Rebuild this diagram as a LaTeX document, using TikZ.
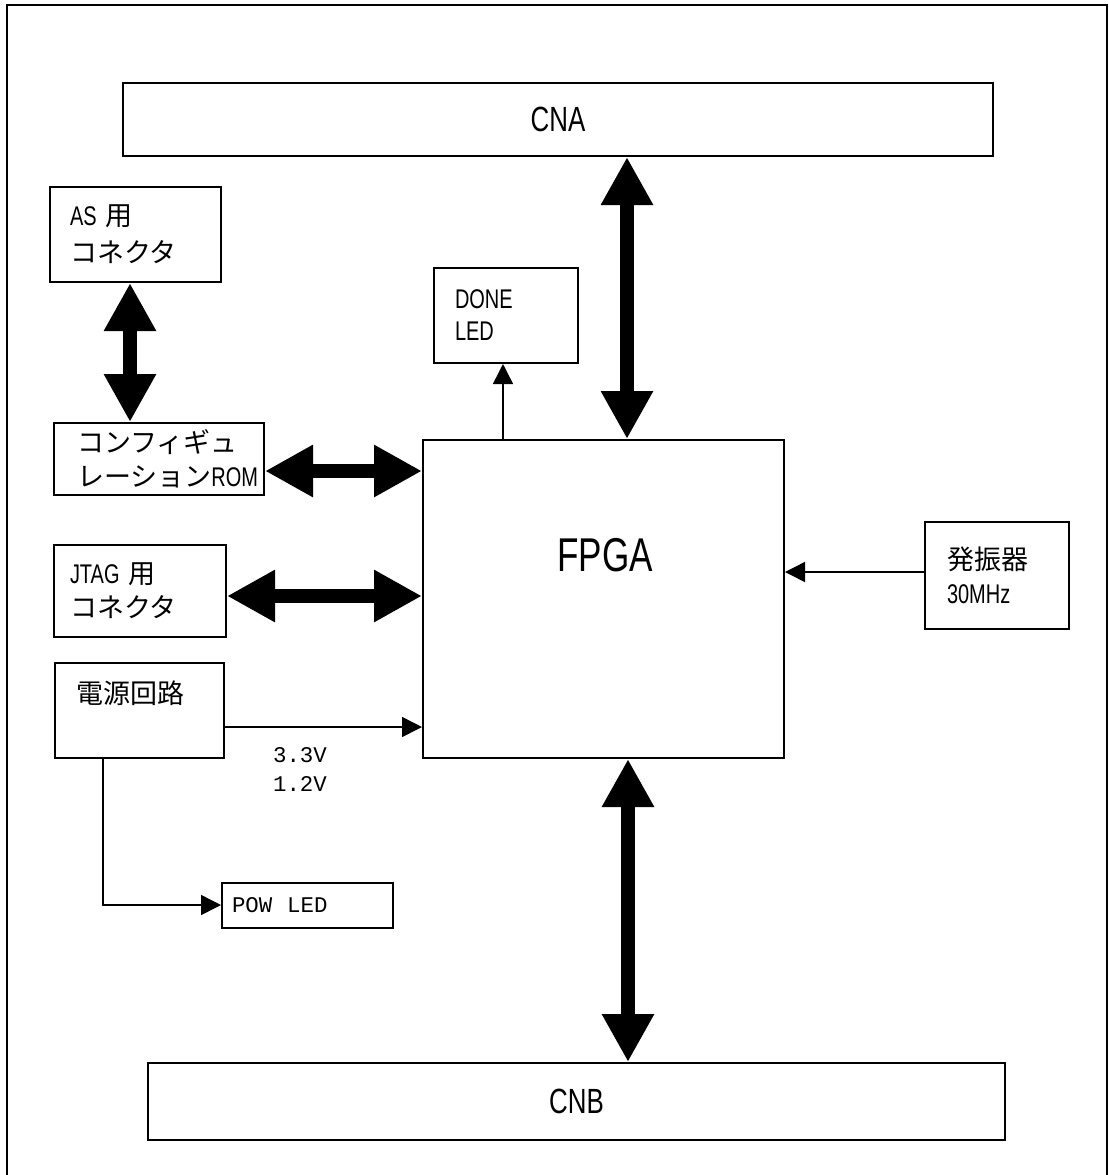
\documentclass[tikz,border=0pt]{standalone}
\usepackage{fontspec}
\setmainfont{Liberation Sans}[FakeStretch=0.74]
\newfontfamily\jpfont{Noto Sans CJK JP}
\newfontfamily\voltfont{Liberation Mono}
\usetikzlibrary{arrows.meta}

\begin{document}
\begin{tikzpicture}[x=0.5pt,y=-0.5pt,
    blk/.style={draw,line width=1pt,inner sep=0pt,align=left},
    bigtxt/.style={font=\fontsize{17.5}{20}\selectfont},
    boxtxt/.style={font=\fontsize{13.5}{17}\selectfont},
    monotxt/.style={font=\voltfont\fontsize{11.2}{14.5}\selectfont},
    bus/.style={line width=7pt,{Triangle[length=24pt,width=24.5pt]}-{Triangle[length=24pt,width=24.5pt]}},
    sig/.style={line width=0.75pt,-{Triangle[length=10pt,width=10pt]}}]

  \useasboundingbox (0,0) rectangle (1109,1175);
  \draw[line width=1pt] (7,1190) -- (7,5) -- (1107,5) -- (1107,1190);

  \node[blk,bigtxt,minimum width=435pt,minimum height=36.5pt] (cna) at (558,119.5) {CNA};
  \node[blk,bigtxt,minimum width=428.5pt,minimum height=38.5pt] (cnb) at (576.5,1101.5) {CNB};
  \node[blk,minimum width=180.5pt,minimum height=159pt] (fpga) at (603.5,599) {};
  \node[font=\fontsize{23.7}{26}\selectfont] (fpgatxt) at (605,555) {FPGA};

  \node[blk,boxtxt,minimum width=85.5pt,minimum height=47.5pt,text width=65.5pt] (as) at (135.5,234.5)
    {AS {\jpfont 用}\\[1.5pt]{\jpfont コネクタ}};
  \node[blk,boxtxt,minimum width=105pt,minimum height=36pt,text width=82pt] (cfg) at (159,459)
    {{\jpfont コンフィギュ}\\{\jpfont レーション}ROM};
  \node[blk,boxtxt,minimum width=86pt,minimum height=46pt,text width=70pt] (jtag) at (140,591)
    {JTAG {\jpfont 用}\\{\jpfont コネクタ}};
  \node[blk,minimum width=84.5pt,minimum height=47.5pt] (pwr) at (139.5,710.5) {};
  \node[boxtxt,anchor=west,inner sep=0pt] (pwrtxt) at (76,693) {\jpfont 電源回路};
  \node[blk,monotxt,minimum width=85.5pt,minimum height=22.5pt,text width=75.5pt] (pow) at (307.5,905)
    {POW~~LED};
  \node[blk,boxtxt,minimum width=72pt,minimum height=47.5pt,text width=51pt] (done) at (506,315.5)
    {DONE\\[-1pt]LED};
  \node[blk,boxtxt,minimum width=72pt,minimum height=53.5pt,text width=50pt] (osc) at (997,575.5)
    {{\jpfont 発振器}\\30MHz};
  \node[monotxt,align=center] (volt) at (300,769.5) {3.3V\\1.2V};

  \draw[bus] (130,0 |- as.south) -- (130,0 |- cfg.north);
  \draw[bus] (cfg.east |- 0,471) -- (fpga.west |- 0,471);
  \draw[bus] (jtag.east |- 0,596) -- (fpga.west |- 0,596);
  \draw[bus] (627,0 |- cna.south) -- (627,0 |- fpga.north);
  \draw[bus] (628,0 |- fpga.south) -- (628,0 |- cnb.north);
  \draw[sig] (503,0 |- fpga.north) -- (503,0 |- done.south);
  \draw[sig] (osc.west |- 0,572) -- (fpga.east |- 0,572);
  \draw[sig] (pwr.east |- 0,727) -- (fpga.west |- 0,727);
  \draw[sig] (103,0 |- pwr.south) |- (pow.west);

\end{tikzpicture}
\end{document}
